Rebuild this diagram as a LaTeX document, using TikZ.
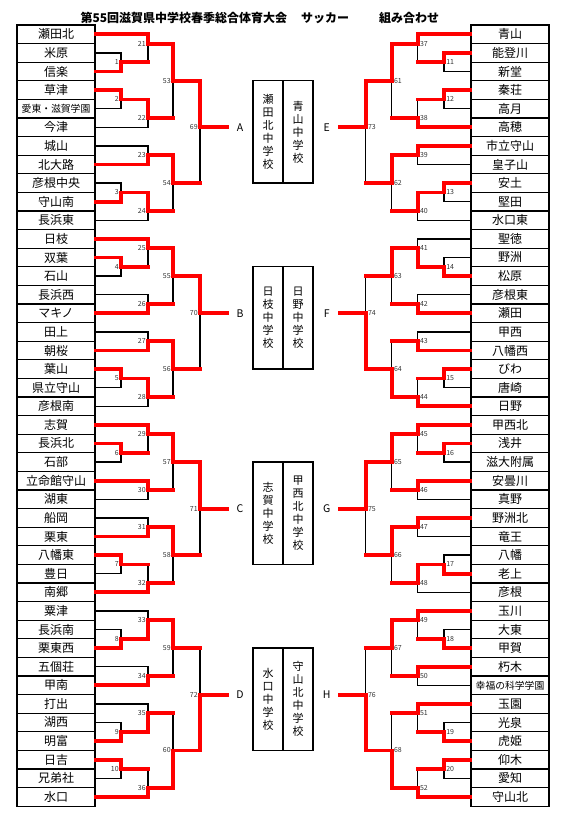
\documentclass[tikz,border=0pt]{standalone}
\usepackage{fontspec}
\setmainfont{Noto Sans CJK JP}

% row grid: half-row steps
\newcommand{\hy}[1]{25+9.3*(#1)}
\newcommand{\smallname}{\fontsize{9.8}{10}\selectfont}

\tikzset{
  team/.style={draw, line width=1.2pt, minimum width=78pt, minimum height=18.6pt,
    inner sep=0pt, font=\fontsize{12}{12}\selectfont},
  lose/.style={line width=1.3pt, black},
  win/.style={line width=3.8pt, red, line cap=rect},
  mlabL/.style={anchor=east, xshift=-1.8pt, inner sep=0.3pt, text=black!80, font=\fontsize{7}{7}\selectfont},
  mlabR/.style={anchor=west, xshift=1.8pt, inner sep=0.3pt, text=black!80, font=\fontsize{7}{7}\selectfont},
  grp/.style={minimum width=26pt, inner sep=0pt, font=\fontsize{10.5}{10.5}\selectfont},
  school/.style={draw, line width=1.3pt, minimum width=30pt, minimum height=102.3pt,
    inner sep=0pt, align=center, font=\fontsize{11}{13}\selectfont}
}

\begin{document}
\begin{tikzpicture}[x=1pt,y=-1pt]
\useasboundingbox (0,0) rectangle (567,819);

% Title
\node[anchor=west, font=\bfseries\fontsize{12}{12}\selectfont] (title) at (77,17.5)
  {第55回滋賀県中学校春季総合体育大会\hspace{14pt}サッカー\hspace{30pt}組み合わせ};

% Teams, left column
\foreach \t [count=\i from 0] in {瀬田北,米原,信楽,草津,\smallname 愛東・滋賀学園,今津,城山,北大路,彦根中央,守山南,長浜東,
  日枝,双葉,石山,長浜西,マキノ,田上,朝桜,葉山,県立守山,彦根南,
  志賀,長浜北,石部,立命館守山,湖東,船岡,栗東,八幡東,豊日,南郷,
  粟津,長浜南,栗東西,五個荘,甲南,打出,湖西,明富,日吉,兄弟社,水口}
  \node[team] (L\i) at (56,{\hy{2*\i+1}}) {\t};

% Teams, right column
\foreach \t [count=\i from 0] in {青山,能登川,新堂,秦荘,高月,高穂,市立守山,皇子山,安土,堅田,水口東,
  聖徳,野洲,松原,彦根東,瀬田,甲西,八幡西,びわ,唐崎,日野,
  甲西北,浅井,滋大附属,安曇川,真野,野洲北,竜王,八幡,老上,彦根,
  玉川,大東,甲賀,朽木,\smallname 幸福の科学学園,玉園,光泉,虎姫,仰木,愛知,守山北}
  \node[team] (R\i) at (510,{\hy{2*\i+1}}) {\t};

% Left bracket: no/x/top/bottom/winner/other red/out
\foreach \mn/\mx/\ma/\mb/\mw/\mr/\mo in {
  1/121/L1/L2/L2/L2/4, 21/148/L0/m1/L0/m1/2, 2/121/L3/L4/L3/L3/8, 22/148/m2/L5/m2/m2/10,
  53/173/m21/m22/m21/m22/6, 23/148/L6/L7/L7/L7/14, 3/121/L8/L9/L9/L9/18, 24/148/m3/L10/m3/m3/20,
  54/173/m23/m24/m23/m24/17, 69/200/m53/m54/m53/m54/11,
  4/121/L12/L13/L12/L12/26, 25/148/L11/m4/L11/m4/24, 26/148/L14/L15/L15/L15/30,
  55/173/m25/m26/m25/m26/27, 27/148/L16/L17/L17/L17/34, 5/121/L18/L19/L18/L18/38,
  28/148/m5/L20/m5/m5/40, 56/173/m27/m28/m27/m28/37, 70/200/m55/m56/m55/m56/31,
  6/121/L22/L23/L22/L22/46, 29/148/L21/m6/L21/m6/44, 30/148/L24/L25/L24/L24/50,
  57/173/m29/m30/m29/m30/47, 31/148/L26/L27/L27/L27/54, 7/121/L28/L29/L28/L28/58,
  32/148/m7/L30/L30/m7/60, 58/173/m31/m32/m31/m32/57, 71/200/m57/m58/m57/m58/52,
  8/121/L32/L33/L33/L33/66, 33/148/L31/m8/m8/m8/64, 34/148/L34/L35/L35/L35/70,
  59/173/m33/m34/m33/m34/67, 9/121/L37/L38/L38/L38/76, 35/148/L36/m9/m9/m9/74,
  10/121/L39/L40/L39/L39/80, 36/148/m10/L41/L41/m10/82, 60/173/m35/m36/m36/m35/78,
  72/200/m59/m60/m60/m59/72}{
  \coordinate (m\mn) at (\mx,{\hy{\mo}});
  \draw[lose] (\ma) -- (m\mn |- \ma) -- (m\mn |- \mb) -- (\mb);
  \draw[win] (\mw) -- (m\mn |- \mw) -- (m\mn);
  \draw[win] (\mr) -- (m\mn |- \mr);
  \node[mlabL] at (m\mn) {\mn};
}

% Right bracket
\foreach \mn/\mx/\ma/\mb/\mw/\mr/\mo in {
  11/444/R1/R2/R1/R1/4, 37/417.7/R0/m11/R0/m11/2, 12/444/R3/R4/R3/R3/8, 38/417.7/m12/R5/R5/m12/10,
  61/391.7/m37/m38/m37/m38/6, 39/417.7/R6/R7/R6/R6/14, 13/444/R8/R9/R8/R8/18,
  40/417.7/m13/R10/m13/m13/20, 62/391.7/m39/m40/m39/m40/17, 73/365.7/m61/m62/m61/m62/11,
  14/444/R12/R13/R13/R13/26, 41/417.7/R11/m14/m14/m14/24, 42/417.7/R14/R15/R15/R15/30,
  63/391.7/m41/m42/m41/m42/27, 43/417.7/R16/R17/R17/R17/34, 15/444/R18/R19/R18/R18/38,
  44/417.7/m15/R20/R20/m15/40, 64/391.7/m43/m44/m44/m43/37, 74/365.7/m63/m64/m64/m63/31,
  16/444/R22/R23/R22/R22/46, 45/417.7/R21/m16/R21/m16/44, 46/417.7/R24/R25/R24/R24/50,
  65/391.7/m45/m46/m45/m46/47, 47/417.7/R26/R27/R26/R26/54, 17/444/R28/R29/R29/R29/58,
  48/417.7/m17/R30/m17/m17/60, 66/391.7/m47/m48/m47/m48/57, 75/365.7/m65/m66/m65/m66/52,
  18/444/R32/R33/R33/R33/66, 49/417.7/R31/m18/R31/m18/64, 50/417.7/R34/R35/R34/R34/70,
  67/391.7/m49/m50/m49/m50/67, 19/444/R37/R38/R38/R38/76, 51/417.7/R36/m19/R36/m19/74,
  20/444/R39/R40/R39/R39/80, 52/417.7/m20/R41/R41/m20/82, 68/391.7/m51/m52/m52/m51/78,
  76/365.7/m67/m68/m68/m67/72}{
  \coordinate (m\mn) at (\mx,{\hy{\mo}});
  \draw[lose] (\ma) -- (m\mn |- \ma) -- (m\mn |- \mb) -- (\mb);
  \draw[win] (\mw) -- (m\mn |- \mw) -- (m\mn);
  \draw[win] (\mr) -- (m\mn |- \mr);
  \node[mlabR] at (m\mn) {\mn};
}

% Block letters
\node[grp] (gA) at (240,{\hy{11}}) {A};
\node[grp] (gB) at (240,{\hy{31}}) {B};
\node[grp] (gC) at (240,{\hy{52}}) {C};
\node[grp] (gD) at (240,{\hy{72}}) {D};
\node[grp] (gE) at (326.7,{\hy{11}}) {E};
\node[grp] (gF) at (326.7,{\hy{31}}) {F};
\node[grp] (gG) at (326.7,{\hy{52}}) {G};
\node[grp] (gH) at (326.7,{\hy{72}}) {H};
\draw[win] (m69) -- (gA);
\draw[win] (m70) -- (gB);
\draw[win] (m71) -- (gC);
\draw[win] (m72) -- (gD);
\draw[win] (m73) -- (gE);
\draw[win] (m74) -- (gF);
\draw[win] (m75) -- (gG);
\draw[win] (m76) -- (gH);

% Venues
\node[school] (sA) at (268,{\hy{11.5}}) {瀬\\田\\北\\中\\学\\校};
\node[school] (sE) at (298,{\hy{11.5}}) {青\\山\\中\\学\\校};
\node[school] (sB) at (268,{\hy{31.5}}) {日\\枝\\中\\学\\校};
\node[school] (sF) at (298,{\hy{31.5}}) {日\\野\\中\\学\\校};
\node[school] (sC) at (268,{\hy{52.5}}) {志\\賀\\中\\学\\校};
\node[school] (sG) at (298,{\hy{52.5}}) {甲\\西\\北\\中\\学\\校};
\node[school] (sD) at (268,{\hy{72.5}}) {水\\口\\中\\学\\校};
\node[school] (sH) at (298,{\hy{72.5}}) {守\\山\\北\\中\\学\\校};

\end{tikzpicture}
\end{document}
